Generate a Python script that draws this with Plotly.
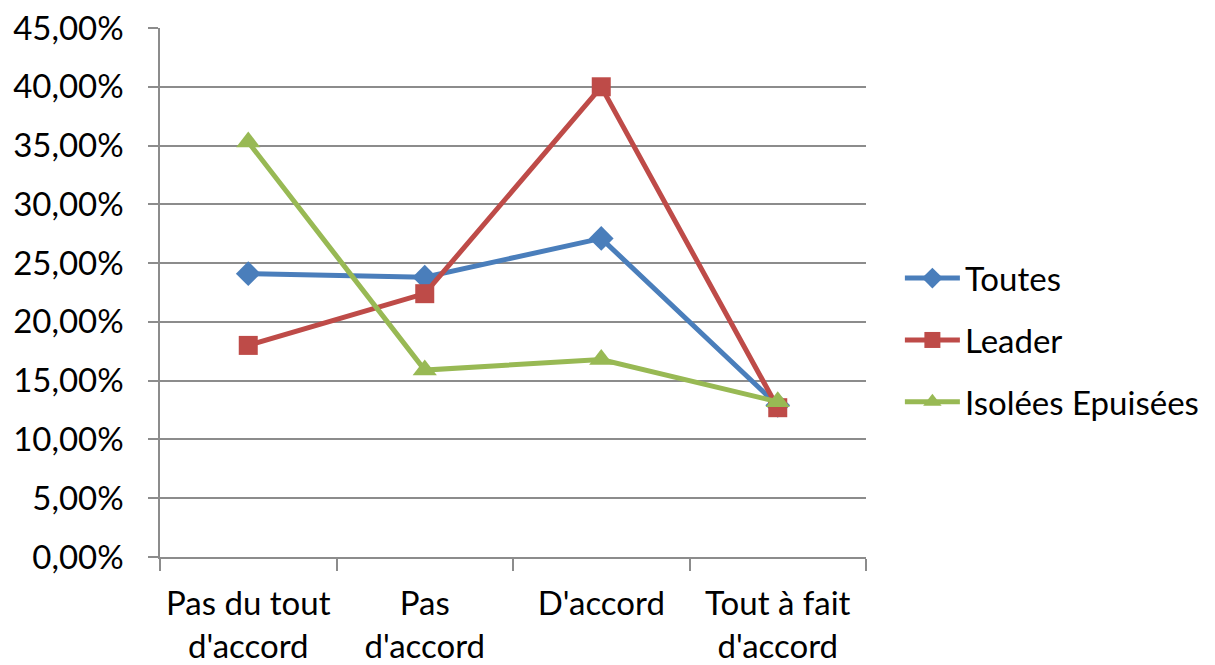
import plotly.graph_objects as go

categories = ["Pas du tout<br>d'accord", "Pas<br>d'accord", "D'accord", "Tout à fait<br>d'accord"]
toutes = [0.241, 0.238, 0.271, 0.129]
leader = [0.180, 0.224, 0.400, 0.127]
isolees = [0.353, 0.159, 0.168, 0.132]
series_names = ["Toutes", "Leader", "Isolées Epuisées"]

colors = ["#4A7EBB", "#BE4B48", "#98B954"]
symbols = ["diamond", "square", "triangle-up"]
sizes = [19, 19, 21]

fig = go.Figure()
for i, (name, vals, c, s, sz) in enumerate(zip(series_names, [toutes, leader, isolees], colors, symbols, sizes)):
    fig.add_trace(go.Scatter(
        x=categories, y=vals, name=name, mode="lines+markers",
        legendgroup=f"g{i}",
        line=dict(color=c, width=5),
        marker=dict(symbol=s, size=sz, color=c),
    ))

fig.update_layout(
    width=1215, height=665,
    margin=dict(l=160, r=349, t=28, b=108, autoexpand=False),
    paper_bgcolor="white", plot_bgcolor="white",
    separators=", ",
    font=dict(family="Lato, Open Sans, sans-serif", size=33, color="#000000"),
    legend=dict(x=1.048, y=0.41, yanchor="middle", xanchor="left",
                font=dict(size=33), itemwidth=55, tracegroupgap=16,
                bgcolor="rgba(0,0,0,0)"),
    showlegend=True,
)
fig.update_yaxes(
    range=[0, 0.45], dtick=0.05, tickformat=".2%",
    showgrid=True, gridcolor="#8C8C8C", gridwidth=1.5,
    showline=True, linecolor="#8C8C8C", linewidth=1.5,
    ticks="outside", ticklen=10, tickcolor="#8C8C8C", tickwidth=1.5,
    zeroline=False, ticklabelstandoff=18, automargin=False,
)
fig.update_xaxes(
    type="category", tickson="boundaries",
    showgrid=False, showline=True, linecolor="#8C8C8C", linewidth=1.5,
    ticks="outside", ticklen=12, tickcolor="#8C8C8C", tickwidth=1.5,
    range=[-0.5, 3.5], ticklabelstandoff=17, automargin=False,
)
fig.write_html("out.html", config={"displayModeBar": False},
               post_script="document.body.style.margin='0';document.body.style.overflow='hidden';")
